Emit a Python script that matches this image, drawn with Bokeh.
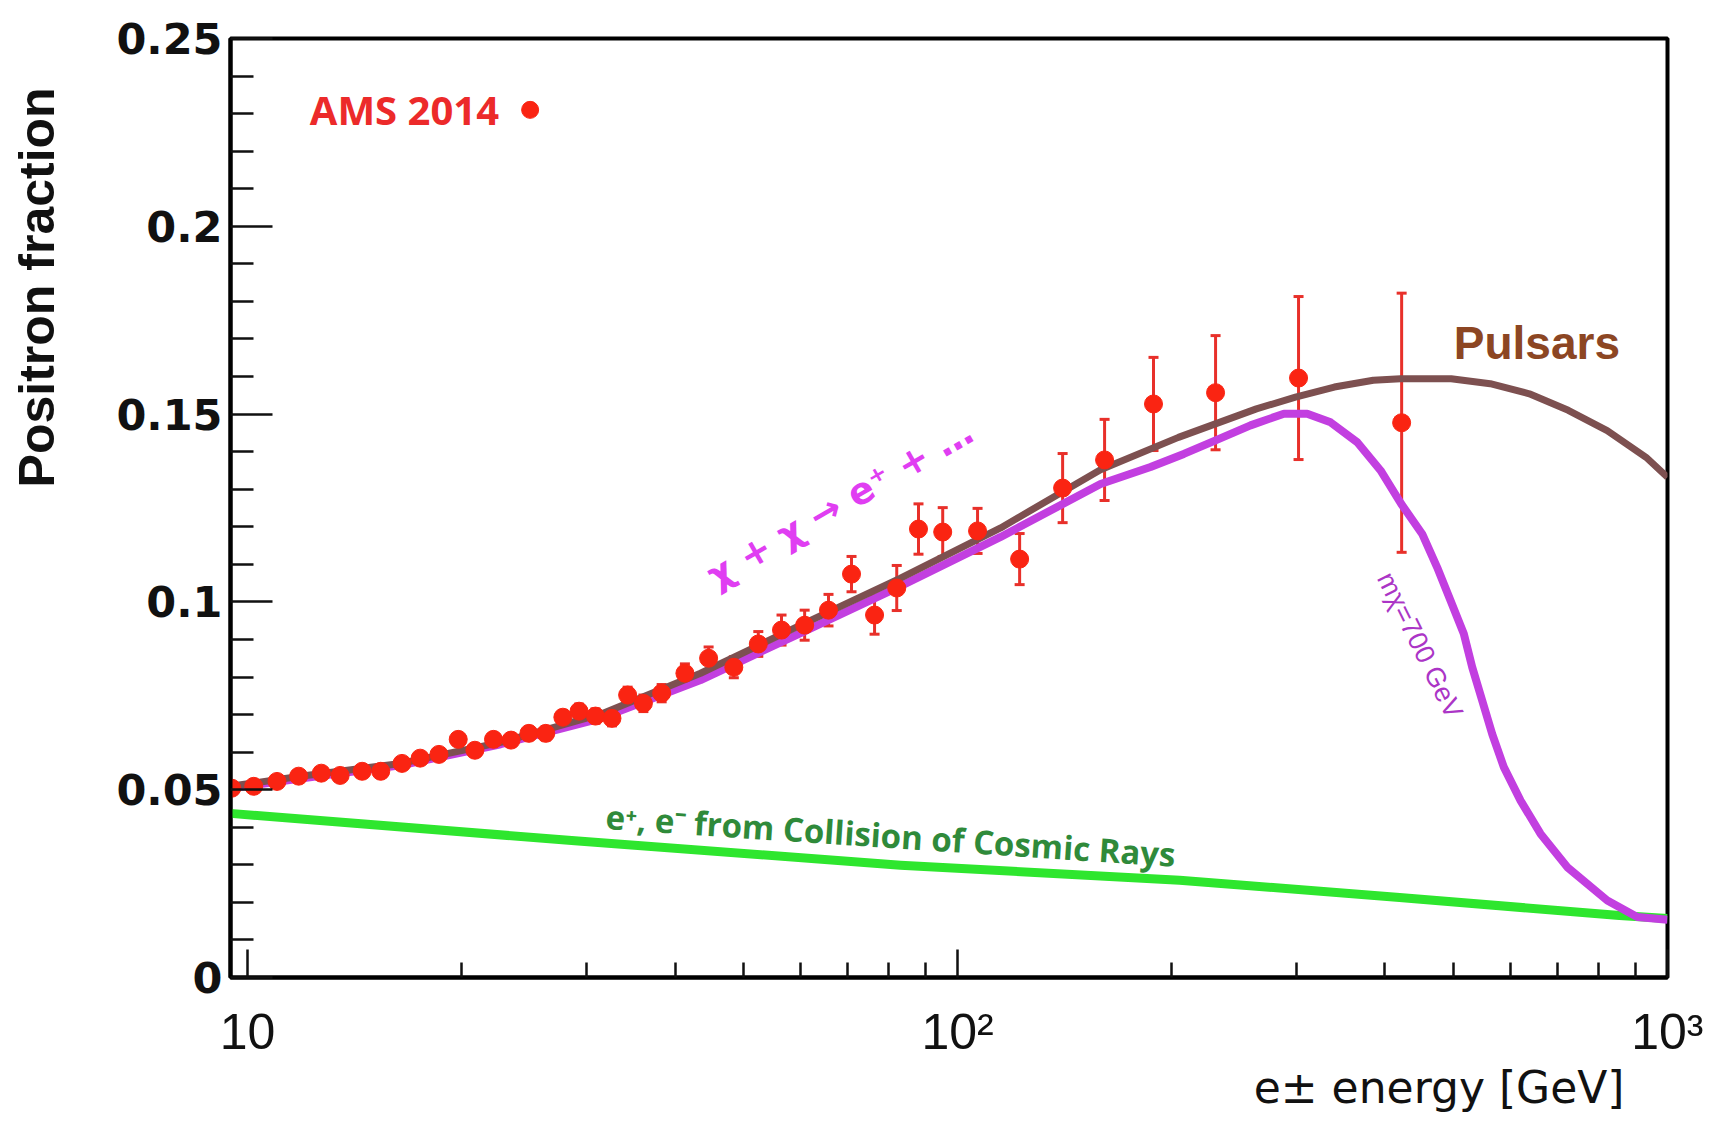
from bokeh.plotting import figure
from bokeh.layouts import row
from bokeh.models import (ColumnDataSource, Whisker, TeeHead, FixedTicker,
                          CustomJSTickFormatter, Label, Range1d, Title)
from bokeh.embed import file_html
from bokeh.resources import INLINE

# ---------------- data ----------------
# AMS 2014 positron fraction points
ams_energy = [9.5, 10.2, 11.0, 11.8, 12.7, 13.5, 14.5, 15.4, 16.5, 17.5,
              18.6, 19.8, 20.9, 22.2, 23.5, 24.9, 26.3, 27.8, 29.3, 30.9,
              32.6, 34.3, 36.1, 38.3, 41.3, 44.6, 48.4, 52.4, 56.5, 60.9,
              65.8, 70.9, 76.4, 82.1, 88.1, 95.3, 106.7, 122.3, 140.6, 161.1,
              188.8, 230.9, 302.2, 422.2]
ams_fraction = [0.0504, 0.0509, 0.0522, 0.0536, 0.0544, 0.0538, 0.0549, 0.0549, 0.0570, 0.0584,
                0.0594, 0.0634, 0.0605, 0.0634, 0.0632, 0.0650, 0.0650, 0.0693, 0.0709, 0.0696,
                0.0690, 0.0752, 0.0730, 0.0757, 0.0810, 0.0850, 0.0826, 0.0888, 0.0925, 0.0938,
                0.0978, 0.1074, 0.0965, 0.1037, 0.1194, 0.1186, 0.1189, 0.1114, 0.1303, 0.1378,
                0.1527, 0.1557, 0.1596, 0.1477]
ams_error = [0.0012, 0.0012, 0.0012, 0.0013, 0.0013, 0.0013, 0.0014, 0.0014, 0.0014, 0.0015,
             0.0015, 0.0016, 0.0016, 0.0016, 0.0017, 0.0017, 0.0018, 0.0018, 0.0019, 0.0019,
             0.0020, 0.0021, 0.0022, 0.0023, 0.0025, 0.0030, 0.0028, 0.0033, 0.0040, 0.0040,
             0.0042, 0.0047, 0.0051, 0.0060, 0.0067, 0.0065, 0.0060, 0.0068, 0.0092, 0.0108,
             0.0124, 0.0152, 0.0217, 0.0345]

# Pulsar model curve
pulsar_energy = [9.46, 11.87, 16.43, 22.72, 31.43, 43.45, 60.10, 83.11, 115.0, 159.0,
                 204.7, 263.6, 299.2, 339.4, 385.1, 420.6, 495.8, 562.7, 638.8, 724.8,
                 822.3, 932.8, 1000.0]
pulsar_fraction = [0.0509, 0.0536, 0.0570, 0.0626, 0.0701, 0.0810, 0.0938, 0.1063, 0.1197, 0.1352,
                   0.1438, 0.1514, 0.1545, 0.1572, 0.1590, 0.1594, 0.1594, 0.1581, 0.1554, 0.1510,
                   0.1456, 0.1385, 0.1332]

# Dark matter (m_chi = 700 GeV) curve
dm_energy = [9.46, 11.87, 16.43, 22.72, 31.43, 43.45, 60.10, 83.11, 115.0, 159.0,
             187.0, 208.3, 230.9, 258.6, 288.2, 310.8, 335.3, 365.6, 394.3, 421.6,
             451.3, 473.7, 494.7, 516.5, 530.8, 548.3, 566.4, 588.1, 620.9, 662.3,
             722.3, 822.6, 906.5, 1000.0]
dm_fraction = [0.0504, 0.0530, 0.0565, 0.0621, 0.0690, 0.0792, 0.0917, 0.1042, 0.1173, 0.1314,
               0.1359, 0.1394, 0.1430, 0.1470, 0.1501, 0.1501, 0.1478, 0.1425, 0.1350, 0.1261,
               0.1181, 0.1092, 0.1004, 0.0915, 0.0826, 0.0737, 0.0648, 0.0560, 0.0471, 0.0383,
               0.0294, 0.0205, 0.0161, 0.0154]

# Secondary production (collision of cosmic rays)
bg_energy = [9.46, 28.9, 83.1, 205.5, 419.4, 855.7, 1000.0]
bg_fraction = [0.0437, 0.0364, 0.0299, 0.0259, 0.0213, 0.0165, 0.0157]

# axes
x_ticks = [10, 100, 1000]
x_tick_labels = ["10", "10\u00b2", "10\u00b3"]
x_minor = [20, 30, 40, 50, 60, 70, 80, 90, 200, 300, 400, 500, 600, 700, 800, 900]
y_ticks = [0.0, 0.05, 0.1, 0.15, 0.2, 0.25]
y_tick_labels = ["0", "0.05", "0.1", "0.15", "0.2", "0.25"]
y_minor = [round(0.01 * i, 2) for i in range(1, 25) if i % 5 != 0]

INK = "#111111"

# ---------------- narrow panel holding the vertical axis title ----------------
ylab = figure(width=70, height=1113, x_range=Range1d(0, 70), y_range=Range1d(1113, 0),
              output_backend="svg", toolbar_location=None, title=None,
              x_axis_location=None, y_axis_location=None, min_border=0)
ylab.outline_line_color = None
ylab.background_fill_color = "white"
ylab.border_fill_color = "white"
ylab.grid.visible = False
ylab.add_layout(Label(x=36, y=295, text="Positron fraction", angle=90, angle_units="deg",
                      text_align="center", text_baseline="middle",
                      text_font="Liberation Sans", text_font_style="bold",
                      text_font_size="50px", text_color=INK))

# ---------------- main figure ----------------
p = figure(width=1633, height=1113, x_axis_type="log",
           x_range=Range1d(9.46, 1000), y_range=Range1d(0, 0.25),
           output_backend="svg", toolbar_location=None, title=None,
           min_border_left=160, min_border_right=36,
           min_border_top=38, min_border_bottom=136)
p.background_fill_color = "white"
p.border_fill_color = "white"
p.grid.visible = False
p.outline_line_color = "black"
p.outline_line_width = 4

fmt_code = """
for (let i = 0; i < vals.length; i++) {
  if (Math.abs(vals[i] - tick) <= 1e-9 * Math.max(1, Math.abs(vals[i]))) { return labs[i]; }
}
return "";
"""

xa = p.xaxis[0]
xa.ticker = FixedTicker(ticks=x_ticks, minor_ticks=x_minor)
xa.formatter = CustomJSTickFormatter(args=dict(vals=x_ticks, labs=x_tick_labels), code=fmt_code)
xa.major_tick_in = 28
xa.major_tick_out = 0
xa.minor_tick_in = 15
xa.minor_tick_out = 0
xa.major_tick_line_width = 2.5
xa.minor_tick_line_width = 2.5
xa.major_tick_line_color = INK
xa.minor_tick_line_color = INK
xa.axis_line_width = 4
xa.axis_line_color = "black"
xa.major_label_text_font = "Liberation Sans"
xa.major_label_text_font_size = "50px"
xa.major_label_text_color = INK
xa.major_label_standoff = 26

ya = p.yaxis[0]
ya.ticker = FixedTicker(ticks=y_ticks, minor_ticks=y_minor)
ya.formatter = CustomJSTickFormatter(args=dict(vals=y_ticks, labs=y_tick_labels), code=fmt_code)
ya.major_tick_in = 42
ya.major_tick_out = 0
ya.minor_tick_in = 23
ya.minor_tick_out = 0
ya.major_tick_line_width = 2.5
ya.minor_tick_line_width = 2.5
ya.major_tick_line_color = INK
ya.minor_tick_line_color = INK
ya.axis_line_width = 4
ya.axis_line_color = "black"
ya.major_label_text_font = "DejaVu Sans"
ya.major_label_text_font_style = "bold"
ya.major_label_text_font_size = "43px"
ya.major_label_text_color = INK
ya.major_label_standoff = 8

# x axis title, right aligned under the axis
p.add_layout(Title(text="e\u00b1 energy [GeV]", align="right", offset=43,
                   vertical_align="top", standoff=-2,
                   text_font="DejaVu Sans", text_font_style="normal",
                   text_font_size="44px", text_color=INK), "below")

# ---------------- curves ----------------
p.line(bg_energy, bg_fraction, line_color="#2ee62e", line_width=9, line_join="round")
p.line(dm_energy, dm_fraction, line_color="#c23fe0", line_width=8, line_join="round")
p.line(pulsar_energy, pulsar_fraction, line_color="#7d5050", line_width=7, line_join="round")

# ---------------- data points ----------------
src = ColumnDataSource(dict(
    x=ams_energy, y=ams_fraction,
    lo=[f - e for f, e in zip(ams_fraction, ams_error)],
    hi=[f + e for f, e in zip(ams_fraction, ams_error)],
))
p.scatter("x", "y", source=src, size=18, fill_color="#fa2412", line_color="#fa2412")
bar_col = "#e8302a"
w = Whisker(source=src, base="x", lower="lo", upper="hi", dimension="height",
            line_color=bar_col, line_width=3,
            upper_head=TeeHead(size=10, line_color=bar_col, line_width=3),
            lower_head=TeeHead(size=10, line_color=bar_col, line_width=3))
p.add_layout(w)

# legend key
p.scatter([25.0], [0.231], size=17, fill_color="#fa2412", line_color="#fa2412")
p.add_layout(Label(x=22.6, y=0.231, text="AMS 2014", text_align="right", text_baseline="middle",
                   text_font="Open Sans", text_font_style="bold", text_font_size="40px",
                   text_color="#ec2a2a"))

# ---------------- annotations ----------------
p.add_layout(Label(x=500, y=0.169, text="Pulsars", text_align="left", text_baseline="middle",
                   text_font="Liberation Sans", text_font_style="bold", text_font_size="46px",
                   text_color="#8c4623"))
p.add_layout(Label(x=68.3, y=0.1262, text="\u03c7 + \u03c7 \u2192 e\u207a + \u2026",
                   angle=30, angle_units="deg", text_align="center", text_baseline="middle",
                   text_font="DejaVu Sans", text_font_style="bold", text_font_size="37px",
                   text_color="#e03ef2"))
p.add_layout(Label(x=448, y=0.0885, text="m\u03c7=700 GeV",
                   angle=-63.6, angle_units="deg", text_align="center", text_baseline="middle",
                   text_font="Liberation Sans", text_font_size="27px", text_color="#ab35c6"))
p.add_layout(Label(x=80.5, y=0.0378, text="e\u207a, e\u207b from Collision of Cosmic Rays",
                   angle=-3.8, angle_units="deg", text_align="center", text_baseline="middle",
                   text_font="Open Sans", text_font_style="bold", text_font_size="33px",
                   text_color="#2f8a3a"))

layout = row(ylab, p)
open("out.html", "w").write(file_html(layout, INLINE))
